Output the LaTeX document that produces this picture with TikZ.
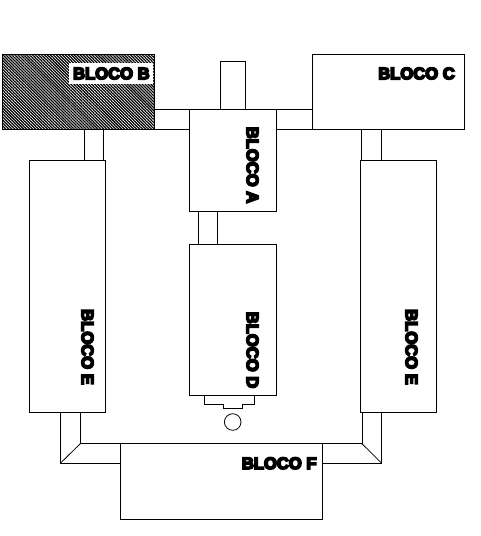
\documentclass[tikz,border=0pt]{standalone}
\usepackage{fontspec}
\setmainfont{Liberation Sans}
\usetikzlibrary{patterns.meta, calc}

\begin{document}
\begin{tikzpicture}[
    x=1pt, y=-1pt,
    line width=0.8pt,
    bloco/.style={draw, anchor=north west, inner sep=0pt, outer sep=0pt, fill=white},
    rotulo/.style={inner sep=0pt, font=\fontsize{16.6}{17}\selectfont\bfseries\addfontfeatures{FakeBold=10}},
    ligacao/.style={draw, line width=0.8pt}
]
  \useasboundingbox (0,0) rectangle (480,536);

  % blocos
  \node[bloco, minimum width=152pt, minimum height=75.5pt, pattern={Lines[angle=-45, distance=2.1pt, line width=1.25pt]}] (blocoB) at (2,54) {};
  \node[bloco, minimum width=152pt, minimum height=75.5pt] (blocoC) at (312.3,54) {};
  \node[bloco, minimum width=24.4pt, minimum height=48pt] (topoA) at (220.7,61.7) {};
  \node[bloco, minimum width=87pt, minimum height=102pt] (blocoA) at (189.3,109.7) {};
  \node[bloco, minimum width=18.6pt, minimum height=32.5pt] (eixoD) at (198.7,211.7) {};
  \node[bloco, minimum width=87pt, minimum height=151.5pt] (blocoD) at (189.3,244.2) {};
  \node[bloco, minimum width=76pt, minimum height=252pt] (blocoEe) at (29.3,160.4) {};
  \node[bloco, minimum width=75.7pt, minimum height=252pt] (blocoEd) at (360.3,160.4) {};
  \node[bloco, minimum width=202.3pt, minimum height=75.3pt] (blocoF) at (120,443.7) {};

  % pecas entre os blocos
  \node[bloco, minimum width=19.7pt, minimum height=30.9pt] (eixoE) at (84,129.5) {};
  \node[bloco, minimum width=19.6pt, minimum height=30.9pt] (eixoC) at (361.7,129.5) {};
  \node[draw, circle, minimum size=16.6pt, inner sep=0pt] (furoD) at (232.7,422) {};

  \draw[ligacao] (blocoB.east |- blocoA.north) -- (blocoA.north west);
  \draw[ligacao] (blocoB.south east) -- (blocoB.south east -| blocoA.west);
  \draw[ligacao] (blocoC.west |- blocoA.north) -- (blocoA.north east);
  \draw[ligacao] (blocoC.south west) -- (blocoC.south west -| blocoA.east);

  % base do bloco D
  \coordinate (baseE) at (204.3,404);
  \coordinate (baseD) at (254.3,404);
  \coordinate (pontaE) at (223.3,408);
  \coordinate (pontaD) at (242.3,408);
  \draw[ligacao] (baseE |- blocoD.south) -- (baseE) -- (baseE -| pontaE) -- (pontaE) -- (pontaD) -- (baseE -| pontaD) -- (baseD) -- (baseD |- blocoD.south);

  % cotovelos
  \coordinate (cotEi) at (80.3,443.7);
  \coordinate (cotEo) at (60.3,463.3);
  \coordinate (cotDi) at (362,443.7);
  \coordinate (cotDo) at (381.7,463.3);
  \draw[ligacao] (cotEo |- blocoEe.south) -- (cotEo) -- (cotEo -| blocoF.west);
  \draw[ligacao] (cotEi |- blocoEe.south) -- (cotEi) -- (blocoF.north west);
  \draw[ligacao] (cotEi) -- (cotEo);
  \draw[ligacao] (cotDo |- blocoEd.south) -- (cotDo) -- (cotDo -| blocoF.east);
  \draw[ligacao] (cotDi |- blocoEd.south) -- (cotDi) -- (blocoF.north east);
  \draw[ligacao] (cotDi) -- (cotDo);

  % rotulos
  \node[fill=white, minimum width=83.7pt, minimum height=20.4pt, inner sep=0pt] (fundoB) at (110.8,73.5) {};
  \node[rotulo] (rotB) at (111.4,73.5) {BLOCO B};
  \node[rotulo] (rotC) at (416.5,73.5) {BLOCO C};
  \node[rotulo] (rotF) at (279.2,463.3) {BLOCO F};
  \node[rotulo, rotate=-90] (rotA) at (252.5,165) {BLOCO A};
  \node[rotulo, rotate=-90] (rotD) at (252.5,350) {BLOCO D};
  \node[rotulo, rotate=-90] (rotEe) at (87.5,347) {BLOCO E};
  \node[rotulo, rotate=-90] (rotEd) at (411.5,347) {BLOCO E};
\end{tikzpicture}
\end{document}
